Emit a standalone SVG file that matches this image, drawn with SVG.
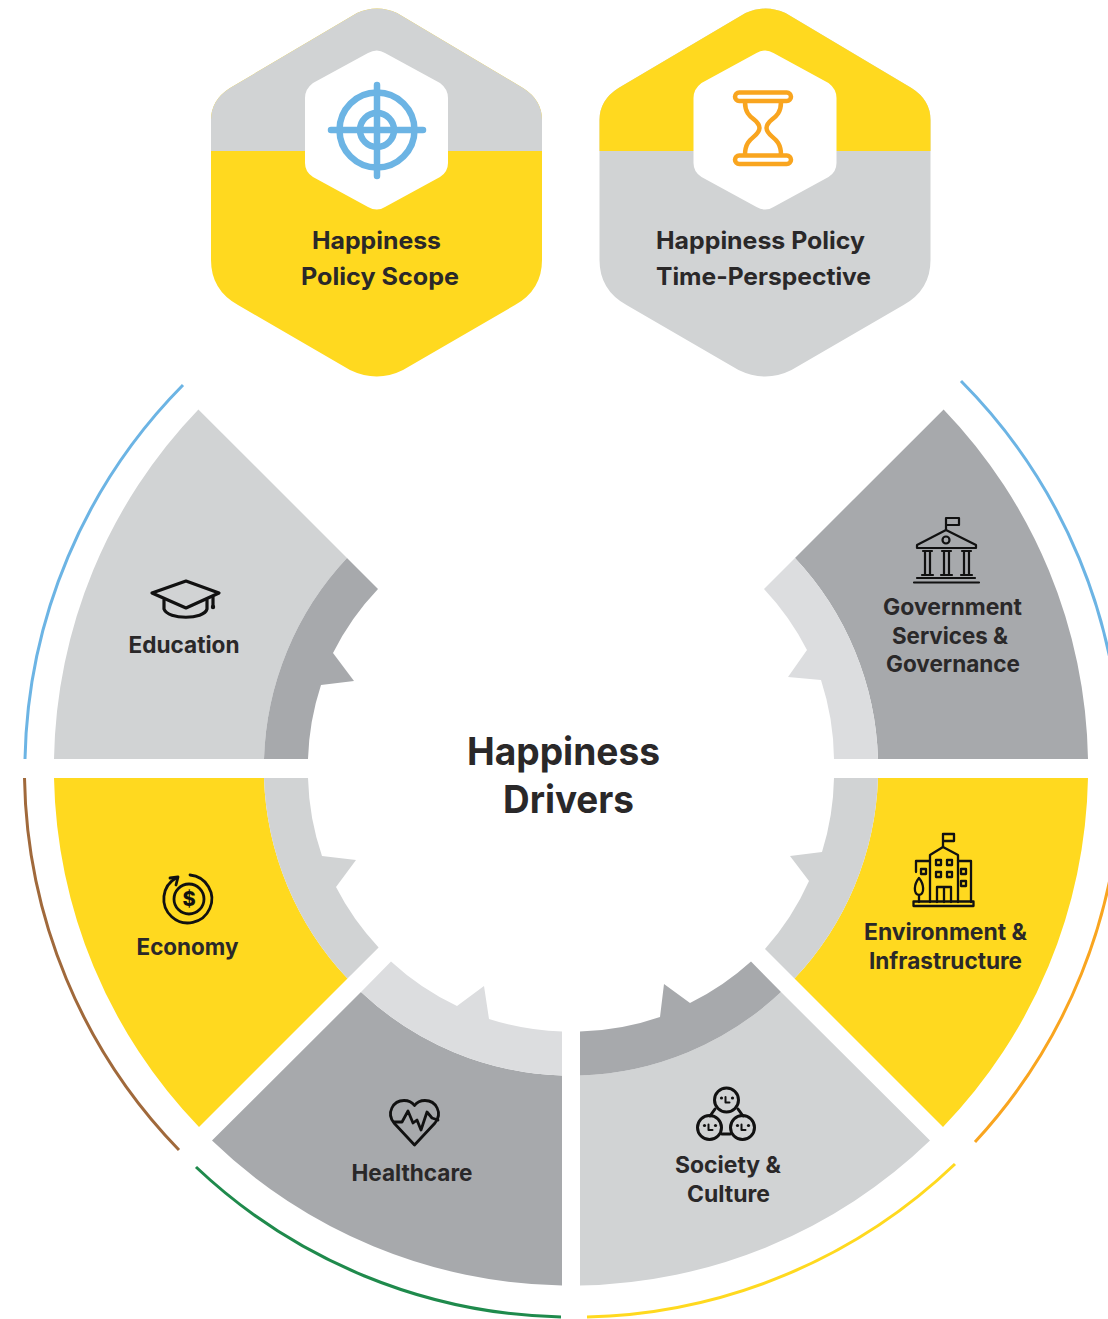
<svg xmlns="http://www.w3.org/2000/svg" xmlns:xlink="http://www.w3.org/1999/xlink" width="1108" height="1319" viewBox="0 0 1108 1319">
<style>
text{font-family:"Inter","Liberation Sans",sans-serif;font-weight:700;fill:#2a2829;font-size:24px}
.big{font-size:38px}
.mid{font-size:22.5px}
.y{fill:#FFD91F}.g{fill:#D1D3D4}.d{fill:#A7A9AC}.l{fill:#DCDDDF}
.ic{fill:none;stroke:#111;stroke-width:2.8;stroke-linecap:round;stroke-linejoin:round}
.arc{fill:none;stroke-width:3}
</style>
<defs>
<path id="hex" d="M357 13 Q377 4 397 13 L523 88 Q542 100 542 120 L542 260 Q542 290 515 305 L403 370 Q377 383 350 370 L238 305 Q211 290 211 260 L211 120 Q211 100 230 88 Z"/>
<path id="inner" d="M368 53 Q377 48 385 53 L440 83 Q448 89 448 98 L448 163 Q448 172 440 177 L385 207 Q377 212 368 207 L313 177 Q305 172 305 163 L305 98 Q305 89 313 83 Z"/>
<clipPath id="top"><rect x="0" y="0" width="1108" height="151"/></clipPath>
<g id="face"><circle cx="-5" cy="-2" r="1.600" fill="#111" stroke="none"/><circle cx="6" cy="-2" r="1.600" fill="#111" stroke="none"/><path d="M-1 -3V2.500H3"/></g>
</defs>
<rect width="1108" height="1319" fill="#fff"/>

<g id="connectors">
<path class="arc" stroke="#6CB4E4" d="M183 385A547 547 0 0 0 25 759"/>
<path class="arc" stroke="#6CB4E4" d="M961 381A550 550 0 0 1 1121 768"/>
<path class="arc" stroke="#F9A51F" d="M975 1142A550 550 0 0 0 1121 778"/>
<path class="arc" stroke="#FFD91F" d="M955 1164A551 551 0 0 1 587 1317"/>
<path class="arc" stroke="#1F8A4C" d="M196 1167A548 548 0 0 0 561 1317"/>
<path class="arc" stroke="#A0693B" d="M24.500 778A547 547 0 0 0 179 1150"/>
</g>

<g id="policy-scope">
<use href="#hex" class="y"/>
<g clip-path="url(#top)"><use href="#hex" class="g"/></g>
<use href="#inner" fill="#fff"/>
<g fill="none" stroke="#6CB4E4" stroke-width="6.500" stroke-linecap="round">
<circle cx="377" cy="130" r="37.500"/><circle cx="377" cy="130" r="17"/>
<path d="M377 85V176M331 130H423"/>
</g>
<text x="312" y="249" textLength="129" lengthAdjust="spacingAndGlyphs">Happiness</text>
<text x="301" y="285" textLength="158" lengthAdjust="spacingAndGlyphs">Policy Scope</text>
</g>

<g id="time-perspective">
<use href="#hex" class="g" transform="translate(388.500 0)"/>
<g clip-path="url(#top)"><use href="#hex" class="y" transform="translate(388.500 0)"/></g>
<use href="#inner" fill="#fff" transform="translate(388.500 0)"/>
<g fill="none" stroke="#F9A51F" stroke-width="4.500" stroke-linejoin="round">
<rect x="735" y="92.500" width="56" height="8.500" rx="4.200"/>
<rect x="735" y="155.500" width="56" height="8.500" rx="4.200"/>
<path d="M745 102C745 120 759 118 759.500 128C759 138 745 136 745 155M781 102C781 120 767 118 766.500 128C767 138 781 136 781 155"/>
</g>
<text x="656" y="249" textLength="209" lengthAdjust="spacingAndGlyphs">Happiness Policy</text>
<text x="656" y="285" textLength="215" lengthAdjust="spacingAndGlyphs">Time-Perspective</text>
</g>

<g id="center"><text class="big" x="467" y="765" textLength="193" lengthAdjust="spacingAndGlyphs">Happiness</text>
<text class="big" x="503" y="813" textLength="131" lengthAdjust="spacingAndGlyphs">Drivers</text></g>

<g id="education">
<path class="g" d="M347 558L198.400 409.400A517 517 0 0 0 54 759L264 759A307 307 0 0 1 347 558Z"/>
<path class="d" d="M378 589L347 558A307 307 0 0 0 264 759L308 759A263 263 0 0 1 321 685L354 681L333 653A263 263 0 0 1 378 589Z"/>
<g class="ic" style="stroke-width:3.200">
<path d="M186 581L219 593L186 608L152 593Z"/>
<path d="M164 600V609C168 620 204 620 207 609V600"/>
<path d="M213 597V606"/>
</g>
<circle cx="213" cy="607" r="2.200" fill="#111"/>
<text class="mid" x="128.500" y="653" textLength="111" lengthAdjust="spacingAndGlyphs">Education</text>
</g>

<g id="government">
<path class="d" d="M795 558L943.600 409.400A517 517 0 0 1 1088 759L878 759A307 307 0 0 0 795 558Z"/>
<path class="l" d="M764 589L795 558A307 307 0 0 1 878 759L834 759A263 263 0 0 0 821 680L788 677L807 650A263 263 0 0 0 764 589Z"/>
<g class="ic" style="stroke-width:2.200">
<path d="M946 530V518H959V525H946"/>
<path d="M946 530L917 545V548H976V545Z"/>
<circle cx="946" cy="540" r="3.500"/>
<path d="M923 551H932M922 575H933M925 551V575M930 551V575M942 551H951M941 575H952M944 551V575M949 551V575M962 551H971M961 575H972M964 551V575M969 551V575"/>
<path d="M917 578H975M914 582.500H979"/>
</g>
<text class="mid" x="883" y="615" textLength="139" lengthAdjust="spacingAndGlyphs">Government</text>
<text class="mid" x="892" y="644" textLength="116" lengthAdjust="spacingAndGlyphs">Services &amp;</text>
<text class="mid" x="886" y="672" textLength="134" lengthAdjust="spacingAndGlyphs">Governance</text>
</g>

<g id="economy">
<path class="y" d="M54 778A517 517 0 0 0 199 1127L347.500 978.500A307 307 0 0 1 264 778Z"/>
<path class="g" d="M264 778A307 307 0 0 0 347.500 978.500L378.600 947.400A263 263 0 0 1 336 887L356 860L322 856A263 263 0 0 1 308 778Z"/>
<g class="ic" style="stroke-width:2.800">
<path d="M190 875A24 24 0 1 1 176 878"/>
<path d="M170 878L178 877L176 885"/>
<circle cx="189" cy="899" r="15"/>
</g>
<text x="189" y="906" text-anchor="middle" style="font-size:20px;font-weight:800;fill:#111">$</text>
<text class="mid" x="136.500" y="955" textLength="102" lengthAdjust="spacingAndGlyphs">Economy</text>
</g>

<g id="environment">
<path class="y" d="M1088 778A517 517 0 0 1 943 1127L794.500 978.500A307 307 0 0 0 878 778Z"/>
<path class="g" d="M878 778A307 307 0 0 1 794.500 978.500L765 949A263 263 0 0 0 809 881L790 856L822 852A263 263 0 0 0 834 778Z"/>
<g class="ic" style="stroke-width:2.300">
<path d="M943 847V834H954V841H943"/>
<path d="M930 902V855L943 847L958 855V902"/>
<path d="M958 861H971V902M930 861H916V872"/>
<rect x="936" y="860" width="5" height="5"/><rect x="947" y="860" width="5" height="5"/>
<rect x="936" y="872" width="5" height="5"/><rect x="947" y="872" width="5" height="5"/>
<rect x="921" y="869" width="5" height="5"/><rect x="961" y="869" width="5" height="5"/><rect x="961" y="881" width="5" height="5"/>
<path d="M937 902V887H951V902M944 887V902"/>
<path d="M919 878C914 884 913 894 919 895C925 894 924 884 919 878ZM919 895V902"/>
<rect x="913.500" y="901.500" width="60" height="4.500"/>
</g>
<text class="mid" x="864" y="940" textLength="163" lengthAdjust="spacingAndGlyphs">Environment &amp;</text>
<text class="mid" x="869" y="969" textLength="153" lengthAdjust="spacingAndGlyphs">Infrastructure</text>
</g>

<g id="healthcare">
<path class="d" d="M562 1285.500A517 517 0 0 1 212 1140.600L361 992A307 307 0 0 0 562 1075.500Z"/>
<path class="l" d="M562 1075.500A307 307 0 0 1 361 992L391 961.500A263 263 0 0 0 457 1006L484 986L489 1019A263 263 0 0 0 562 1031.500Z"/>
<g class="ic">
<path d="M414.500 1145L394 1123C386 1113 393 1100.500 404 1100.500C409 1100.500 412 1102 414.500 1105.500C417 1102 420 1100.500 425 1100.500C436 1100.500 443 1113 435 1123Z"/>
<path d="M394 1122L402 1122L408 1111L413 1123L417 1120L421 1130L427 1112L432 1118L438 1120"/>
</g>
<text class="mid" x="351.500" y="1181" textLength="121" lengthAdjust="spacingAndGlyphs">Healthcare</text>
</g>

<g id="society">
<path class="g" d="M580 1285.500A517 517 0 0 0 930 1140.600L781 992A307 307 0 0 1 580 1075.500Z"/>
<path class="d" d="M580 1075.500A307 307 0 0 0 781 992L751 961.500A263 263 0 0 1 690 1003L664 984L660 1017A263 263 0 0 1 580 1031.500Z"/>
<g class="ic" style="stroke-width:3">
<circle cx="726.500" cy="1100" r="12"/><circle cx="709.500" cy="1127.500" r="12"/><circle cx="742.500" cy="1127.500" r="12"/>
<path d="M715 1109L710 1116M738 1109L743 1116M722 1134H730"/>
<g style="stroke-width:2">
<use href="#face" transform="translate(726.500 1100)"/>
<use href="#face" transform="translate(709.500 1127.500)"/>
<use href="#face" transform="translate(742.500 1127.500)"/>
</g>
</g>
<text class="mid" x="675" y="1173" textLength="106" lengthAdjust="spacingAndGlyphs">Society &amp;</text>
<text class="mid" x="687" y="1202" textLength="83" lengthAdjust="spacingAndGlyphs">Culture</text>
</g>
</svg>
